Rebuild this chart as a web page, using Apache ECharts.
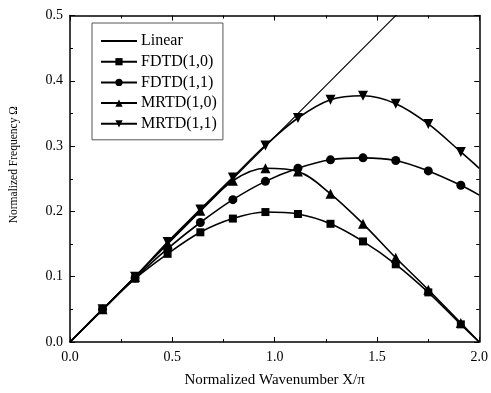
<!DOCTYPE html>
<html>
<head>
<meta charset="utf-8">
<script src="https://cdn.jsdelivr.net/npm/echarts@6/dist/echarts.min.js"></script>
<style>html,body{margin:0;padding:0;background:#fff}#c{width:491px;height:393px}</style>
</head>
<body>
<div id="c"></div>
<script>
// sample wavenumbers (X/pi)
var xs = [0.159, 0.318, 0.477, 0.637, 0.796, 0.955, 1.114, 1.273, 1.432, 1.592, 1.751, 1.910];
var fdtd10 = [0.049, 0.097, 0.135, 0.168, 0.189, 0.199, 0.196, 0.181, 0.154, 0.119, 0.076, 0.027];
var fdtd11 = [0.050, 0.098, 0.143, 0.183, 0.218, 0.246, 0.266, 0.279, 0.282, 0.278, 0.262, 0.240];
var mrtd10 = [0.050, 0.100, 0.151, 0.201, 0.247, 0.266, 0.261, 0.227, 0.181, 0.129, 0.080, 0.029];
var mrtd11 = [0.050, 0.100, 0.153, 0.203, 0.252, 0.301, 0.343, 0.371, 0.377, 0.365, 0.334, 0.291];
// curve end values at X/pi = 0 and 2.0
var start = [0, 0];
var fdtd10End = [2.0, 0];
var fdtd11End = [2.0, 0.225];
var mrtd10End = [2.0, 0];
var mrtd11End = [2.0, 0.266];
var linearPts = [[0, 0], [2.0, 0.628]];
var xTicks = ['0.0', '0.5', '1.0', '1.5', '2.0'];
var yTicks = ['0.0', '0.1', '0.2', '0.3', '0.4', '0.5'];

function build(ys, endPt) {
  var d = [{value: start, symbol: 'none'}];
  for (var i = 0; i < xs.length; i++) d.push([xs[i], ys[i]]);
  d.push({value: endPt, symbol: 'none'});
  return d;
}

var FONT = 'Liberation Serif';
var chart = echarts.init(document.getElementById('c'));

function ax(extra) {
  var base = {
    type: 'value',
    axisLine: {show: true, onZero: false, lineStyle: {color: '#000', width: 1.5}},
    axisTick: {show: true, inside: true, length: 5, lineStyle: {color: '#000', width: 1}},
    minorTick: {show: true, splitNumber: 2, length: 3, lineStyle: {color: '#000', width: 1}},
    splitLine: {show: false},
    minorSplitLine: {show: false}
  };
  for (var k in extra) base[k] = extra[k];
  return base;
}

var lineCommon = {
  type: 'line',
  smooth: 0.35,
  lineStyle: {color: '#000', width: 1.6},
  itemStyle: {color: '#000'},
  z: 3
};
function ser(name, data, symbol, size, rot) {
  var s = {};
  for (var k in lineCommon) s[k] = lineCommon[k];
  s.name = name; s.data = data; s.symbol = symbol; s.symbolSize = size;
  if (rot) s.symbolRotate = rot;
  return s;
}

chart.setOption({
  animation: false,
  backgroundColor: '#fff',
  textStyle: {fontFamily: FONT},
  grid: {left: 68, right: 9, top: 15.5, bottom: 49},
  legend: {
    orient: 'vertical',
    left: 92, top: 23,
    padding: [10, 6, 8, 8],
    borderColor: '#555', borderWidth: 1,
    backgroundColor: '#fff',
    itemWidth: 36, itemHeight: 9, itemGap: 4.7,
    textStyle: {fontFamily: FONT, fontSize: 16, color: '#000', lineHeight: 16, padding: [0, 0, 0, -1]},
    data: ['Linear', 'FDTD(1,0)', 'FDTD(1,1)', 'MRTD(1,0)', 'MRTD(1,1)']
  },
  xAxis: [
    ax({min: 0, max: 2, interval: 0.5, position: 'bottom',
        name: 'Normalized Wavenumber X/\u03c0', nameLocation: 'middle', nameGap: 31,
        nameTextStyle: {fontFamily: FONT, fontSize: 15, color: '#000'},
        axisLabel: {color: '#000', fontFamily: FONT, fontSize: 14, margin: 8,
          formatter: function (v) { return xTicks[Math.round(v / 0.5)]; }}}),
    ax({min: 0, max: 2, interval: 0.5, position: 'top', axisLabel: {show: false}})
  ],
  yAxis: [
    ax({min: 0, max: 0.5, interval: 0.1, position: 'left',
        name: 'Normalized Frequency \u03a9', nameLocation: 'middle', nameGap: 50,
        nameTextStyle: {fontFamily: FONT, fontSize: 11.5, color: '#000', padding: [0, 0, 0, 28]},
        axisLabel: {color: '#000', fontFamily: FONT, fontSize: 14, margin: 7,
          formatter: function (v) { return yTicks[Math.round(v / 0.1)]; }}}),
    ax({min: 0, max: 0.5, interval: 0.1, position: 'right', axisLabel: {show: false}})
  ],
  series: [
    {name: 'Linear', type: 'line', data: linearPts, symbol: 'none', showSymbol: false,
     lineStyle: {color: '#000', width: 1.1},
     itemStyle: {color: 'rgba(0,0,0,0)', borderColor: 'rgba(0,0,0,0)', borderWidth: 0},
     clip: true, z: 2},
    ser('FDTD(1,0)', build(fdtd10, fdtd10End), 'rect', 8),
    ser('FDTD(1,1)', build(fdtd11, fdtd11End), 'circle', 9),
    ser('MRTD(1,0)', build(mrtd10, mrtd10End), 'triangle', 10),
    ser('MRTD(1,1)', build(mrtd11, mrtd11End), 'triangle', 10, 180)
  ]
});
</script>
</body>
</html>
